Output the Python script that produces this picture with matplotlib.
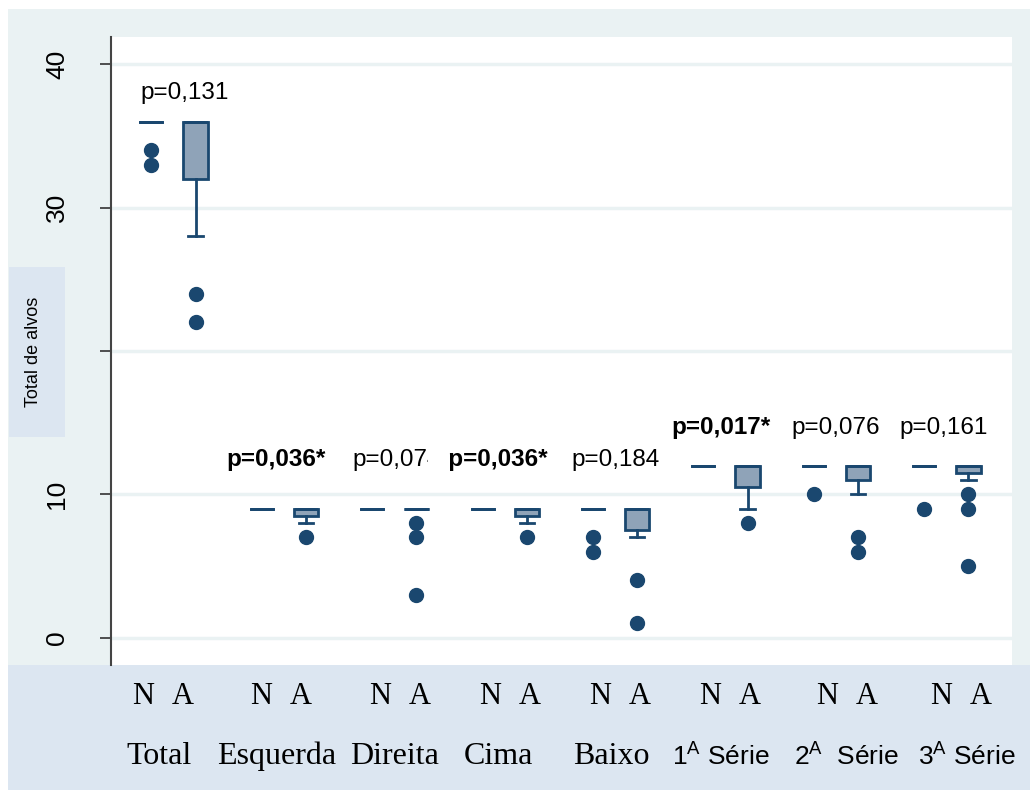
import matplotlib
matplotlib.use("Agg")
import matplotlib.pyplot as plt
from matplotlib.patches import Rectangle

plt.rcParams['font.family'] = ['Liberation Sans', 'DejaVu Sans']
plt.rcParams['mathtext.fontset'] = 'custom'
plt.rcParams['mathtext.rm'] = 'Liberation Sans'

# data (N = normal, A = alterado)
groups = ["Total", "Esquerda", "Direita", "Cima", "Baixo",
          "1$^\\mathrm{A}$ Série", "2$^\\mathrm{A}$  Série", "3$^\\mathrm{A}$ Série"]
serif_label = [True, True, True, True, True, False, False, False]

# (q1, med, q3, whislo, whishi)
n_stats = [(36, 36, 36, 36, 36), (9, 9, 9, 9, 9), (9, 9, 9, 9, 9), (9, 9, 9, 9, 9),
           (9, 9, 9, 9, 9), (12, 12, 12, 12, 12), (12, 12, 12, 12, 12), (12, 12, 12, 12, 12)]
n_fliers = [[34, 33], [], [], [], [7, 6], [], [10], [9]]

a_stats = [(32, 36, 36, 28, 36), (8.5, 9, 9, 8, 9), (9, 9, 9, 9, 9), (8.5, 9, 9, 8, 9),
           (7.5, 9, 9, 7, 9), (10.5, 12, 12, 9, 12), (11, 12, 12, 10, 12), (11.5, 12, 12, 11, 12)]
a_fliers = [[24, 22], [7], [8, 7, 3], [7], [4, 1], [8], [7, 6], [10, 9, 5]]

p_text = ["p=0,131", "p=0,036*", "p=0,074", "   p=0,036*", "p=0,184", "p=0,017*", "p=0,076", "p=0,161"]
p_bold = [False, True, False, True, False, True, False, False]
p_y = [38.0, 12.4, 12.4, 12.4, 12.4, 14.65, 14.65, 14.65]

# small horizontal nudges of the text rows (in group units)
p_shift = [0.1, -0.07, 0.02, -0.155, 0.0, -0.04, 0.0, -0.02]
na_shift = [-0.095, -0.03, 0.05, 0.05, 0.04, 0.04, 0.1, 0.13]
name_shift = [-0.13, -0.07, 0.0, -0.06, -0.03, -0.04, 0.1, 0.19]

navy = "#1a476f"
fill = "#8fa3b8"
bg = "#eaf2f3"
band = "#dce6f1"


def make_stats(rows, fliers):
    out = []
    for (q1, med, q3, lo, hi), fl in zip(rows, fliers):
        out.append(dict(q1=q1, med=med, q3=q3, whislo=lo, whishi=hi, fliers=fl))
    return out


fig = plt.figure(figsize=(10.3, 7.9), dpi=100)
fig.patch.set_facecolor("white")
fig.add_artist(Rectangle((8 / 1030, 0), 1, 1 - 9 / 790, transform=fig.transFigure,
                         facecolor=bg, edgecolor="none", zorder=-10))
fig.add_artist(Rectangle((8 / 1030, 0), 1, 125 / 790, transform=fig.transFigure,
                         facecolor=band, edgecolor="none", zorder=-5))

ax = fig.add_axes([111 / 1030, 125 / 790, 901 / 1030, 628 / 790])
ax.set_facecolor("white")

centers = list(range(len(groups)))
pos_n = [c - 0.2 for c in centers]
pos_a = [c + 0.2 for c in centers]

flierprops = dict(marker="o", markerfacecolor=navy, markeredgecolor=navy, markersize=10, linestyle="none")
common = dict(patch_artist=True, showcaps=True, flierprops=flierprops,
              boxprops=dict(facecolor=fill, edgecolor=navy, linewidth=2),
              whiskerprops=dict(color=navy, linewidth=2),
              capprops=dict(color=navy, linewidth=2),
              medianprops=dict(color=navy, linewidth=2), zorder=3)
ax.bxp(make_stats(n_stats, n_fliers), positions=pos_n, widths=0.2, capwidths=0.2, **common)
ax.bxp(make_stats(a_stats, a_fliers), positions=pos_a, widths=0.22, capwidths=0.13, **common)

for c, txt, b, y, dx in zip(centers, p_text, p_bold, p_y, p_shift):
    kw = dict(ha="center", va="center", fontsize=17.5, fontweight="bold" if b else "normal", zorder=5)
    if txt.startswith(" "):
        # this label hides the end of its neighbour, as in the original
        kw["bbox"] = dict(facecolor="white", edgecolor="none", pad=0)
    ax.text(c + dx, y, txt, **kw)

ax.set_xlim(-0.566, 7.595)
ax.set_ylim(-1.9, 41.9)
ax.set_yticks([0, 10, 20, 30, 40])
ax.set_yticklabels(["0", "10", "20", "30", "40"], rotation=90, va="center", fontsize=19)
ax.tick_params(axis="y", length=8, width=1.2, pad=22, color="#333333")
ax.yaxis.grid(True, color=bg, linewidth=2.5)
ax.set_axisbelow(True)

ax.set_xticks([])
xt = ax.get_xaxis_transform()
for c, dx in zip(centers, na_shift):
    ax.text(c + dx - 0.18, -0.05, "N", transform=xt, ha="center", va="center",
            family="Liberation Serif", fontsize=22)
    ax.text(c + dx + 0.18, -0.05, "A", transform=xt, ha="center", va="center",
            family="Liberation Serif", fontsize=22)

for c, name, serif, dx in zip(centers, groups, serif_label, name_shift):
    ax.text(c + dx, -0.145, name, transform=xt, ha="center", va="center",
            fontsize=23 if serif else 19, family="Liberation Serif" if serif else "Liberation Sans")

for s in ["top", "right", "bottom"]:
    ax.spines[s].set_visible(False)
ax.spines["left"].set_color("#444444")
ax.spines["left"].set_linewidth(1.5)

# y-axis title box, drawn over the "20" tick label
fig.add_artist(Rectangle((9 / 1030, 1 - 437 / 790), 56 / 1030, 170 / 790, transform=fig.transFigure,
                         facecolor=band, edgecolor="none", zorder=10))
fig.text(33 / 1030, 1 - 352 / 790, "Total de alvos", rotation=90, ha="center", va="center",
         fontsize=13, zorder=11)

fig.savefig("out.png", dpi=100, facecolor=fig.get_facecolor())
